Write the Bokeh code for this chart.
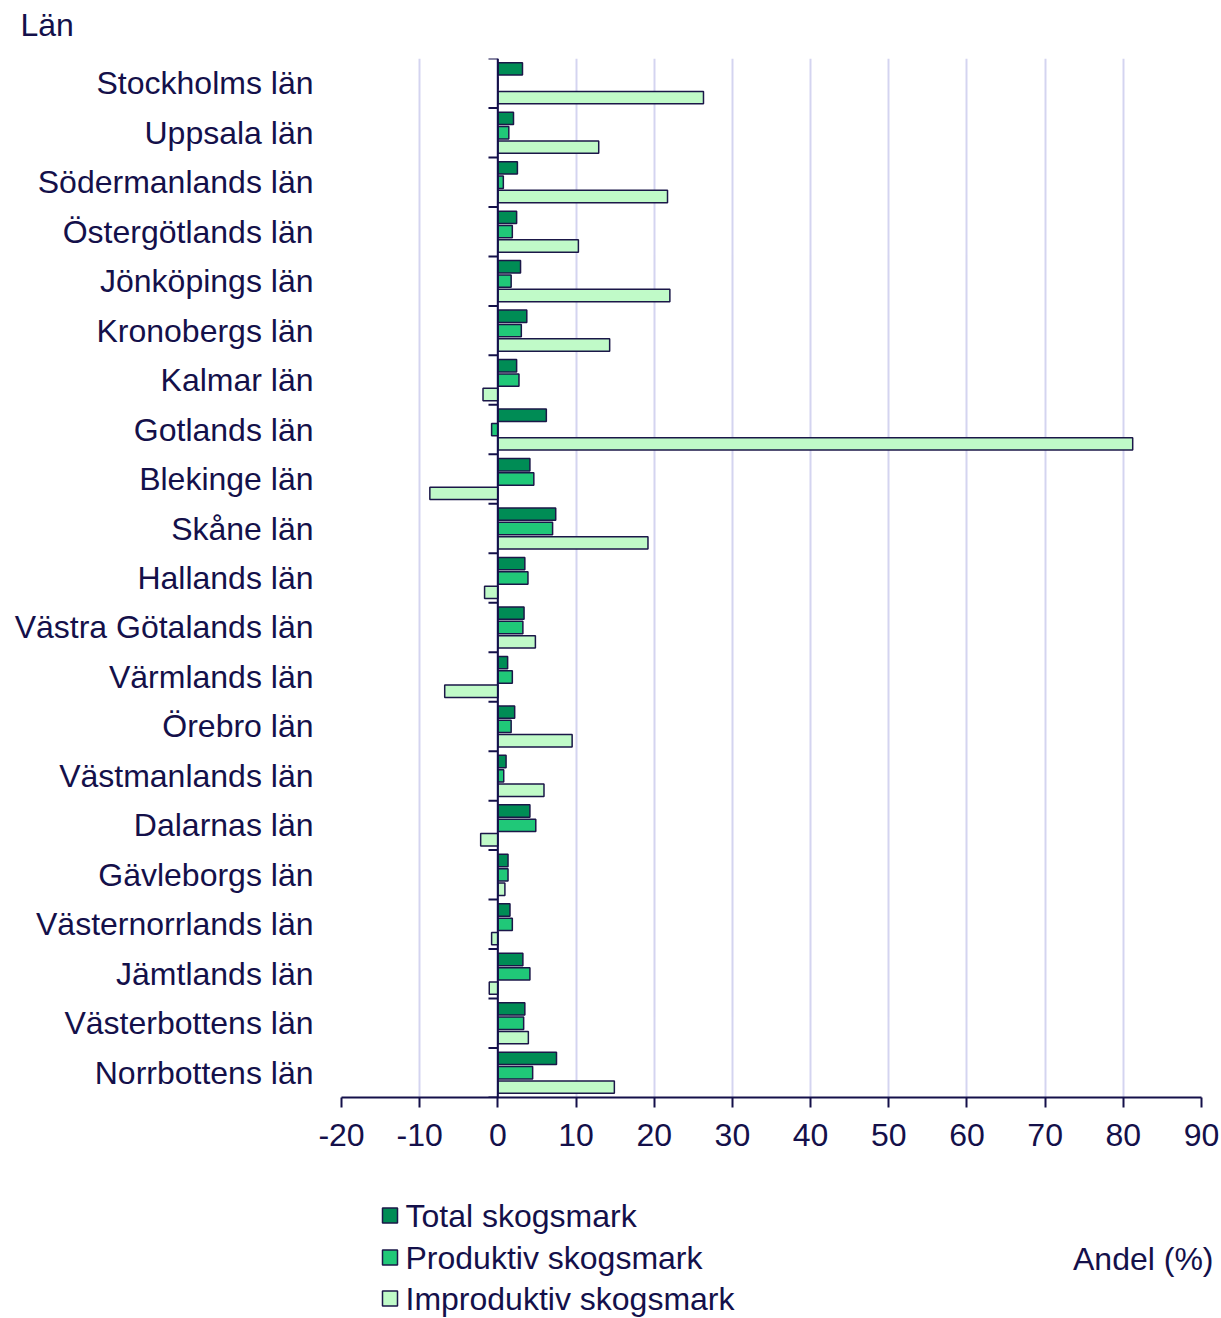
from bokeh.plotting import figure
from bokeh.layouts import column
from bokeh.models import (FactorRange, Range1d, Span, FixedTicker, ColumnDataSource,
                          PrintfTickFormatter)
from bokeh.transform import dodge
from bokeh.core.properties import value
from bokeh.embed import file_html
from bokeh.resources import INLINE

counties = ["Stockholms län", "Uppsala län", "Södermanlands län", "Östergötlands län",
            "Jönköpings län", "Kronobergs län", "Kalmar län", "Gotlands län",
            "Blekinge län", "Skåne län", "Hallands län", "Västra Götalands län",
            "Värmlands län", "Örebro län", "Västmanlands län", "Dalarnas län",
            "Gävleborgs län", "Västernorrlands län", "Jämtlands län",
            "Västerbottens län", "Norrbottens län"]
total = [3.15, 2.0, 2.5, 2.4, 2.9, 3.7, 2.4, 6.2, 4.1, 7.4, 3.45, 3.35, 1.25, 2.15,
         1.05, 4.1, 1.3, 1.55, 3.2, 3.45, 7.5]
produktiv = [0.0, 1.4, 0.7, 1.85, 1.7, 3.0, 2.7, -0.8, 4.6, 7.0, 3.85, 3.2, 1.85, 1.7,
             0.75, 4.85, 1.3, 1.85, 4.1, 3.3, 4.45]
improduktiv = [26.3, 12.9, 21.7, 10.3, 22.0, 14.3, -1.9, 81.2, -8.7, 19.2, -1.7, 4.8,
               -6.8, 9.5, 5.9, -2.2, 0.9, -0.8, -1.1, 3.9, 14.9]
series_names = ["Total skogsmark", "Produktiv skogsmark", "Improduktiv skogsmark"]
x_ticks = [-20, -10, 0, 10, 20, 30, 40, 50, 60, 70, 80, 90]
y_title = "Län"
x_title = "Andel (%)"

TXT = "#14104A"
EDGE = "#1B1748"
GRID = "#D4D4F0"
COLORS = ["#008C55", "#20C878", "#C0FAC8"]
FONT = "Liberation Sans"
FS = "32px"
W = 1221


def bare(fig):
    fig.outline_line_color = None
    fig.axis.visible = False
    fig.grid.visible = False
    fig.background_fill_color = "white"
    fig.border_fill_color = "white"


# ---- top strip with the category title ----
H_TOP = 58
top = figure(width=W, height=H_TOP, title=None, x_range=Range1d(0, W),
             y_range=Range1d(H_TOP, 0), output_backend="svg", toolbar_location=None,
             min_border=0, frame_align=False)
bare(top)
top.text(x=[20], y=[24], text=[y_title], text_font=value(FONT), text_font_size=FS,
         text_color=TXT, text_align="left", text_baseline="middle")

# ---- main chart ----
src = ColumnDataSource(dict(county=counties, total=total, produktiv=produktiv,
                            improduktiv=improduktiv))
H_MAIN = 1129
p = figure(width=W, height=H_MAIN, title=None,
           y_range=FactorRange(factors=list(reversed(counties)), range_padding=0,
                               factor_padding=0),
           x_range=Range1d(x_ticks[0], x_ticks[-1]),
           output_backend="svg", toolbar_location=None,
           min_border_left=341, min_border_right=20, min_border_top=0,
           min_border_bottom=90, frame_align=False)
p.outline_line_color = None
p.background_fill_color = "white"
p.border_fill_color = "white"

p.xgrid.ticker = FixedTicker(ticks=x_ticks)
p.xgrid.grid_line_color = GRID
p.xgrid.grid_line_width = 2
p.ygrid.grid_line_color = None

p.xaxis.ticker = FixedTicker(ticks=x_ticks)
p.xaxis.formatter = PrintfTickFormatter(format="%d")
p.xaxis.axis_line_color = TXT
p.xaxis.axis_line_width = 2
p.xaxis.major_tick_line_color = TXT
p.xaxis.major_tick_line_width = 2
p.xaxis.major_tick_out = 10
p.xaxis.major_tick_in = 0
p.xaxis.minor_tick_line_color = None
p.xaxis.major_label_standoff = 16
p.xaxis.major_label_text_font = FONT
p.xaxis.major_label_text_font_size = FS
p.xaxis.major_label_text_color = TXT

p.yaxis.axis_line_color = None
p.yaxis.major_tick_line_color = None
p.yaxis.major_tick_out = 0
p.yaxis.major_tick_in = 0
p.yaxis.major_label_standoff = 28
p.yaxis.major_label_text_font = FONT
p.yaxis.major_label_text_font_size = FS
p.yaxis.major_label_text_color = TXT

offsets = [0.29, 0.0, -0.29]
cols = ["total", "produktiv", "improduktiv"]
for col, off, color in zip(cols, offsets, COLORS):
    p.hbar(y=dodge("county", off, range=p.y_range), left=0, right=col, height=0.25,
           source=src, fill_color=color, line_color=EDGE, line_width=1.5)

p.add_layout(Span(location=0, dimension="height", line_color=TXT, line_width=2))
bounds = list(range(len(counties) + 1))
p.segment(x0=[-1.2] * len(bounds), x1=[0] * len(bounds), y0=bounds, y1=bounds,
          line_color=TXT, line_width=2)

# ---- legend strip ----
H_LEG = 1318 - H_TOP - H_MAIN
leg = figure(width=W, height=H_LEG, title=None, x_range=Range1d(0, W),
             y_range=Range1d(H_LEG, 0), output_backend="svg", toolbar_location=None,
             min_border=0, frame_align=False)
bare(leg)
rows = [28, 70, 111]
leg.scatter(x=[389.5] * 3, y=rows, marker="square", size=15, fill_color=COLORS,
            line_color=EDGE, line_width=1.5)
leg.text(x=[405] * 3, y=rows, text=series_names, text_font=value(FONT),
         text_font_size=FS, text_color=TXT, text_align="left", text_baseline="middle")
leg.text(x=[1213], y=[71], text=[x_title], text_font=value(FONT), text_font_size=FS,
         text_color=TXT, text_align="right", text_baseline="middle")

layout = column(top, p, leg, spacing=0)
open("out.html", "w").write(file_html(layout, INLINE))
